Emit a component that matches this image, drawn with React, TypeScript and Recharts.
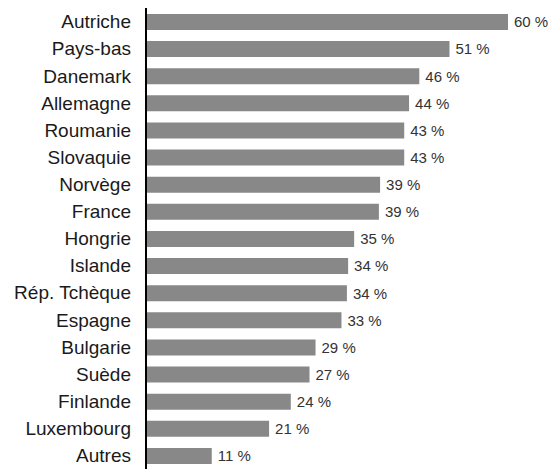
import { BarChart, Bar, XAxis, YAxis, LabelList } from "recharts";

const countries = [
  "Autriche",
  "Pays-bas",
  "Danemark",
  "Allemagne",
  "Roumanie",
  "Slovaquie",
  "Norvège",
  "France",
  "Hongrie",
  "Islande",
  "Rép. Tchèque",
  "Espagne",
  "Bulgarie",
  "Suède",
  "Finlande",
  "Luxembourg",
  "Autres",
];

// bar lengths
const shares = [
  60, 50.3, 45.3, 43.6, 42.8, 42.8, 38.8, 38.6, 34.5, 33.5, 33.3, 32.4, 28.1, 27.1, 24.0, 20.4, 10.9,
];

// printed value labels
const valueLabels = [
  "60 %", "51 %", "46 %", "44 %", "43 %", "43 %", "39 %", "39 %", "35 %",
  "34 %", "34 %", "33 %", "29 %", "27 %", "24 %", "21 %", "11 %",
];

const data = countries.map((name, i) => ({ name, value: shares[i], label: valueLabels[i] }));

const FONT = "'Liberation Sans', Arial, sans-serif";

export default function App() {
  return (
    <div style={{ position: "absolute", left: 0, top: 0, background: "#fff" }}>
      <BarChart
        width={553}
        height={470}
        data={data}
        layout="vertical"
        margin={{ top: 8, right: 45, bottom: 1, left: 0 }}
        barSize={16}
      >
        <XAxis type="number" domain={[0, 60]} hide />
        <YAxis
          type="category"
          dataKey="name"
          width={146}
          tickLine={false}
          axisLine={{ stroke: "#000", strokeWidth: 2 }}
          tickMargin={9}
          tick={{ fill: "#1a1a1a", fontSize: 19, fontFamily: FONT }}
          interval={0}
        />
        <Bar dataKey="value" fill="#888888" isAnimationActive={false}>
          <LabelList
            dataKey="label"
            position="right"
            offset={6}
            style={{ fill: "#333", fontSize: 15, fontFamily: FONT }}
          />
        </Bar>
      </BarChart>
    </div>
  );
}
